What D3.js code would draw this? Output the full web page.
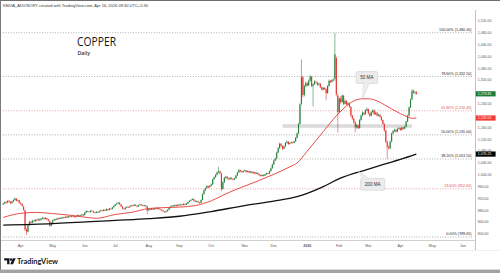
<!DOCTYPE html>
<html><head><meta charset="utf-8">
<script src="https://cdn.jsdelivr.net/npm/d3@7"></script>
<style>html,body{margin:0;padding:0;background:#fff;overflow:hidden}svg{display:block}</style>
</head><body><svg id="c" width="500" height="273"></svg>
<script>
// ---------------- DATA ----------------
const headerText = "KEDIA_ADVISORY created with TradingView.com, Apr 16, 2026 09:30 UTC+5:30";
const titleText = "COPPER";
const subTitle = "Daily";
const startDate = "2025-03-14";   // first daily bar (weekdays)
// daily bars [open, high, low, close]
const candles = [
// Mar 2025
[900,906,898,903],[903,910,901,908],[908,911,903,906],[906,914,904,912],[912,915,907,909],[909,911,901,904],
[904,912,903,910],[910,917,908,915],[915,923,913,920],[920,921,910,912],[912,917,910,914],[914,915,903,905],
// Apr 2025
[905,908,899,902],[902,904,892,895],[893,895,878,882],[880,882,810,815],[815,820,797,808],[808,833,805,830],
[830,845,828,841],[841,843,835,838],[838,848,836,845],[845,847,840,843],[843,851,841,848],[848,850,843,846],
[846,853,845,850],[850,852,844,847],[847,855,846,852],[852,858,850,855],[855,856,848,851],[851,857,849,854],
[854,855,847,850],[850,851,842,845],[845,846,824,828],[828,840,826,838],
// May 2025
[838,848,836,846],[846,852,844,850],[850,851,845,848],[848,855,847,853],[853,854,849,851],[851,857,850,855],
[855,856,851,853],[853,859,852,857],[857,858,853,855],[855,861,854,859],[859,860,854,856],[856,862,855,860],
[860,861,856,858],[858,864,857,862],[862,863,857,859],[859,860,855,857],[857,863,856,861],[861,866,860,864],
[864,865,858,860],[860,865,859,863],[863,868,862,866],[866,867,860,862],
// Jun 2025
[864,874,863,872],[872,880,871,878],[878,879,874,876],[876,877,872,874],[874,881,873,879],[879,880,875,877],
[877,878,871,873],[873,874,869,871],[871,877,870,875],[875,876,871,873],[873,879,872,877],[877,882,876,880],
[880,881,876,878],[878,884,877,882],[882,883,877,879],[879,886,878,884],[884,885,879,881],[881,888,880,886],
[886,887,882,884],[884,892,883,890],[890,897,889,895],
// Jul 2025
[895,902,894,900],[900,906,899,903],[903,909,902,906],[906,907,898,900],[900,901,891,893],[893,894,883,886],
[886,888,881,884],[884,891,883,889],[889,894,888,892],[892,893,888,890],[890,896,889,894],[894,899,893,897],
[897,898,893,895],[895,901,894,899],[899,900,894,896],[896,897,891,893],[893,899,892,897],[897,902,896,900],
[900,901,896,898],[898,899,893,895],[895,899,894,897],[897,898,890,893],[893,894,867,880],
// Aug 2025
[880,886,878,884],[884,885,880,882],[882,888,881,886],[886,887,881,883],[883,889,882,887],[887,888,883,885],
[885,890,884,888],[888,889,882,884],[884,885,880,882],[882,883,877,879],[879,880,874,876],[876,877,871,874],
[874,879,873,877],[877,884,876,882],[882,890,881,888],[888,895,887,893],[893,898,892,896],[896,897,892,894],
[894,900,893,898],[898,899,893,895],[895,901,894,899],
// Sep 2025
[899,900,895,897],[897,902,896,900],[900,901,896,898],[898,904,897,902],[902,903,897,899],[899,905,898,903],
[903,910,902,908],[908,914,907,912],[912,917,911,915],[915,921,914,918],[918,919,911,913],[913,914,907,909],
[909,913,908,911],[911,912,905,907],[907,908,902,905],[905,917,904,915],[915,937,914,935],[935,950,933,948],
[948,957,945,955],[955,965,953,962],[962,963,955,958],[958,966,957,963],
// Oct 2025
[963,971,961,968],[968,987,966,985],[985,995,983,992],[992,1003,990,1000],[1000,1012,998,1008],[1008,1027,1005,1012],
[1012,1014,1002,1005],[1005,1007,945,952],[952,978,950,975],[975,993,972,990],[990,997,987,994],[994,995,985,988],
[988,990,982,985],[985,993,984,990],[990,991,984,987],[987,988,981,984],[984,990,983,988],[988,1000,987,998],
[998,1010,997,1008],[1008,1020,1006,1016],[1016,1017,1009,1012],[1012,1014,1006,1009],[1009,1015,1008,1013],
// Nov 2025
[1013,1018,1011,1015],[1015,1016,1007,1010],[1010,1015,1009,1013],[1013,1014,1005,1008],[1008,1013,1007,1011],
[1011,1012,1003,1006],[1006,1011,1005,1009],[1009,1010,1001,1004],[1004,1009,1003,1007],[1007,1008,1000,1003],
[1003,1004,996,999],[999,1000,993,996],[996,1002,995,1000],[1000,1001,994,997],[997,1004,996,1002],
[1002,1008,1001,1006],[1006,1007,1001,1004],[1004,1014,1003,1012],[1012,1025,1011,1022],[1022,1038,1021,1035],
// Dec 2025
[1035,1051,1033,1048],[1048,1058,1046,1055],[1055,1078,1053,1075],[1075,1094,1073,1090],[1090,1109,1088,1105],
[1105,1107,1095,1098],[1098,1100,1084,1088],[1088,1099,1087,1096],[1096,1111,1095,1108],[1108,1116,1106,1112],
[1112,1114,1101,1104],[1104,1110,1103,1107],[1107,1113,1106,1110],[1110,1112,1105,1108],[1108,1116,1107,1113],
[1113,1128,1112,1125],[1125,1143,1123,1140],[1140,1176,1138,1172],[1172,1242,1170,1238],[1240,1390,1235,1330],
[1330,1335,1262,1270],[1270,1305,1265,1300],[1300,1316,1296,1310],
// Jan 2026
[1310,1313,1298,1302],[1302,1322,1300,1318],[1318,1338,1315,1332],[1332,1334,1296,1300],[1300,1310,1231,1306],
[1306,1320,1304,1315],[1315,1318,1308,1312],[1312,1314,1300,1305],[1305,1312,1302,1308],[1308,1310,1292,1296],
[1296,1298,1284,1288],[1288,1298,1286,1294],[1294,1296,1287,1290],[1290,1292,1252,1276],[1276,1304,1274,1300],
[1300,1322,1298,1318],[1318,1320,1310,1314],[1314,1324,1312,1320],[1320,1326,1316,1322],[1325,1480,1318,1408],
[1395,1400,1265,1272],[1268,1275,1143,1212],
// Feb 2026
[1212,1262,1208,1258],[1258,1266,1240,1246],[1246,1272,1244,1268],[1268,1270,1236,1240],[1240,1254,1238,1250],
[1250,1252,1234,1238],[1238,1246,1235,1242],[1242,1244,1226,1230],[1230,1232,1196,1200],[1200,1203,1186,1190],
[1190,1192,1174,1178],[1178,1180,1143,1160],[1160,1172,1156,1168],[1168,1170,1154,1158],[1158,1189,1156,1185],
[1185,1204,1183,1200],[1200,1214,1198,1210],[1210,1212,1201,1205],[1205,1222,1203,1218],[1218,1228,1215,1222],
// Mar 2026
[1222,1224,1204,1208],[1208,1210,1196,1200],[1200,1215,1198,1212],[1212,1222,1210,1218],[1218,1220,1202,1205],
[1205,1214,1203,1210],[1210,1212,1197,1200],[1200,1207,1198,1203],[1203,1205,1193,1196],[1196,1198,1182,1185],
[1185,1187,1169,1172],[1172,1174,1146,1150],[1150,1152,1108,1112],[1112,1116,1053,1095],[1095,1100,1085,1090],
[1090,1116,1088,1112],[1112,1143,1110,1140],[1140,1152,1138,1148],[1148,1156,1145,1152],[1152,1154,1142,1146],
[1146,1158,1144,1155],[1155,1162,1153,1158],
// Apr 2026
[1158,1160,1148,1152],[1152,1163,1150,1160],[1160,1162,1152,1156],[1156,1166,1154,1163],[1163,1183,1161,1180],
[1180,1203,1178,1200],[1200,1231,1198,1228],[1228,1258,1226,1255],[1255,1290,1253,1283],[1285,1288,1274,1278],
[1278,1284,1272,1280],[1280,1284,1270,1273.85]
];
// moving averages read at sample dates
const ma50 = [
["2025-03-14",856],["2025-04-01",870],["2025-04-16",873],["2025-05-01",869],["2025-05-16",864],["2025-06-02",857],
["2025-06-12",853],["2025-07-01",866],["2025-07-16",873],["2025-08-01",886],["2025-08-15",889],["2025-09-01",891],
["2025-09-16",896],["2025-10-01",912],["2025-10-16",938],["2025-11-03",962],["2025-11-17",981],["2025-12-01",1002],
["2025-12-16",1027],["2025-12-23",1040],["2026-01-01",1080],["2026-01-16",1146],["2026-02-02",1210],["2026-02-16",1250],
["2026-02-24",1257],["2026-03-02",1257],["2026-03-10",1250],["2026-03-17",1237],["2026-03-24",1223],["2026-04-01",1207],
["2026-04-08",1196],["2026-04-13",1191],["2026-04-16",1192]
];
const ma200 = [
["2025-03-14",830],["2025-05-01",835],["2025-07-01",846],["2025-08-01",852],["2025-09-01",860],["2025-10-01",876],
["2025-11-03",896],["2025-12-01",911],["2025-12-23",926],["2026-01-01",937],["2026-01-16",960],["2026-02-02",987],
["2026-03-02",1019],["2026-03-17",1036],["2026-04-01",1052],["2026-04-16",1070]
];
const fibPcts   = ["100.00%","78.60%","61.80%","50.00%","38.20%","23.60%","0.00%"];
const fibValues = [1480.30, 1332.50, 1216.45, 1135.00, 1053.50, 952.65, 789.65];
const fibHot    = [false, false, true, false, false, true, false];
const priceTicks = [800,840,880,920,960,1000,1040,1080,1120,1160,1200,1240,1280,1320,1360,1400,1440,1480,1520];
const monthTickDates  = ["2025-04-01","2025-05-01","2025-06-02","2025-07-01","2025-08-01","2025-09-01","2025-10-01","2025-11-03","2025-12-01","2026-01-01","2026-02-02","2026-03-02","2026-04-01","2026-05-01","2026-06-01"];
const monthTickLabels = ["Apr","May","Jun","Jul","Aug","Sep","Oct","Nov","Dec","2026","Feb","Mar","Apr","May","Jun"];
const lastPrice = 1273.85, ma50Last = 1192.05, ma200Last = 1070.25;
const supportZone = {from:"2025-12-09", to:"2026-04-13", lo:1159, hi:1171};
const callouts = [
  {text:"50 MA",  boxDate:"2026-02-27", boxValue:1329, tipDate:"2026-02-24", tipValue:1258, side:"down"},
  {text:"200 MA", boxDate:"2026-03-05", boxValue:968,  tipDate:"2026-02-19", tipValue:1013, side:"up"}
];

// ---------------- DRAW ----------------
const svg = d3.select("#c");
const UP = "#23803a", DOWN = "#e5322d";
const font = "'Liberation Sans', Arial, sans-serif";
const plotR = 475;

function barIndex(ds){
  const s = new Date(startDate+"T00:00:00Z"), d = new Date(ds+"T00:00:00Z");
  let n = 0;
  for (let t = new Date(s); t < d; t.setUTCDate(t.getUTCDate()+1)) {
    const w = t.getUTCDay(); if (w !== 0 && w !== 6) n++;
  }
  return n;
}
const x = d3.scaleLinear().domain([-2.23, 324.33]).range([0, plotR]);
const y = d3.scaleLinear().domain([800, 1520]).range([234, 21]);
const fmt = d3.format(",.2f");

svg.append("rect").attr("width",500).attr("height",273).attr("fill","#fff");

// header
svg.append("text").attr("x",3).attr("y",7.4).attr("font-family",font).attr("font-size",3.9)
  .attr("fill","#333").attr("textLength",145).attr("lengthAdjust","spacingAndGlyphs").text(headerText);

// axes frame lines
svg.append("line").attr("x1",plotR+0.5).attr("x2",plotR+0.5).attr("y1",10).attr("y2",250).attr("stroke","#b4b4b4").attr("stroke-width",0.8);
svg.append("line").attr("x1",0).attr("x2",plotR).attr("y1",240.5).attr("y2",240.5).attr("stroke","#c4c4c4").attr("stroke-width",0.8);
svg.append("line").attr("x1",0).attr("x2",500).attr("y1",250.5).attr("y2",250.5).attr("stroke","#e4e4e4").attr("stroke-width",0.6);

// fib levels
const fibG = svg.append("g");
fibValues.forEach((v,i)=>{
  const col = fibHot[i] ? "#e58585" : "#9a9a9a";
  fibG.append("line").attr("x1",3).attr("x2",472.5).attr("y1",y(v)).attr("y2",y(v))
    .attr("stroke",col).attr("stroke-width",0.8).attr("stroke-dasharray","1,1.6");
  fibG.append("text").attr("x",471.5).attr("y",y(v)-1.9).attr("text-anchor","end")
    .attr("font-family",font).attr("font-size",3.7).attr("fill", fibHot[i] ? "#d9534f" : "#222")
    .text(fibPcts[i]+" ("+fmt(v)+")");
});

// support zone
svg.append("rect")
  .attr("x", x(barIndex(supportZone.from))).attr("width", x(barIndex(supportZone.to)) - x(barIndex(supportZone.from)))
  .attr("y", y(supportZone.hi)).attr("height", y(supportZone.lo) - y(supportZone.hi))
  .attr("fill","#dadada");

// candles
const cg = svg.append("g");
candles.forEach((c,i)=>{
  const [o,h,l,cl] = c, cx = x(i), col = cl >= o ? UP : DOWN;
  cg.append("line").attr("x1",cx).attr("x2",cx).attr("y1",y(h)).attr("y2",y(l)).attr("stroke",col).attr("stroke-width",0.55);
  const top = y(Math.max(o,cl)), bot = y(Math.min(o,cl));
  cg.append("rect").attr("x",cx-0.55).attr("width",1.1).attr("y",top).attr("height",Math.max(0.6,bot-top)).attr("fill",col);
});

// moving averages
const line = d3.line().x(d=>x(barIndex(d[0]))).y(d=>y(d[1])).curve(d3.curveMonotoneX);
svg.append("path").attr("d",line(ma200)).attr("fill","none").attr("stroke","#111").attr("stroke-width",1.3);
svg.append("path").attr("d",line(ma50)).attr("fill","none").attr("stroke","#e53935").attr("stroke-width",0.9);

// callouts
callouts.forEach(c=>{
  const bx = x(barIndex(c.boxDate)), by = y(c.boxValue);
  const tx = x(barIndex(c.tipDate)), ty = y(c.tipValue);
  const w = c.text.length > 5 ? 24 : 21.5, h = 11.8;
  const g = svg.append("g");
  let tri;
  if (c.side === "down") tri = [[bx-3.4, by+h/2-0.5],[bx+2.6, by+h/2-0.5],[tx,ty]];
  else tri = [[bx-9.7, by-h/2+0.5],[bx-3.7, by-h/2+0.5],[tx,ty]];
  g.append("polygon").attr("points",tri.map(p=>p.join(",")).join(" ")).attr("fill","#ececec").attr("stroke","#c6c6c6").attr("stroke-width",0.5);
  g.append("rect").attr("x",bx-w/2).attr("y",by-h/2).attr("width",w).attr("height",h).attr("rx",1.5)
    .attr("fill","#ececec").attr("stroke","#c6c6c6").attr("stroke-width",0.5);
  g.append("polygon").attr("points",tri.map((p,k)=> k<2 ? [p[0]+0.4, c.side==="down"? p[1]-0.6 : p[1]+0.6].join(",") : [p[0], c.side==="down"? p[1]-1.2 : p[1]+1.2].join(",")).join(" ")).attr("fill","#ececec");
  g.append("text").attr("x",bx).attr("y",by+1.6).attr("text-anchor","middle").attr("font-family",font)
    .attr("font-size",4.6).attr("fill","#333").text(c.text);
});

// title
svg.append("text").attr("x",77).attr("y",46.2).attr("font-family","'Open Sans', sans-serif").attr("font-size",12.2)
  .attr("fill","#131722").attr("textLength",39).attr("lengthAdjust","spacingAndGlyphs").text(titleText);
svg.append("text").attr("x",77.5).attr("y",55.4).attr("font-family","'Open Sans', sans-serif").attr("font-size",5.2)
  .attr("font-weight",600).attr("fill","#333").text(subTitle);

// price axis ticks
const boxes = [[lastPrice,"#1e7a34","#fff"],[ma50Last,"#f23a35","#fff"],[ma200Last,"#000","#fff"]];
priceTicks.forEach(v=>{
  if (boxes.some(b=>Math.abs(y(b[0])-y(v))<2.6)) return;
  svg.append("text").attr("x",477.8).attr("y",y(v)+1.3).attr("font-family",font).attr("font-size",3.5)
    .attr("fill","#555").text(fmt(v));
});
boxes.forEach(b=>{
  svg.append("rect").attr("x",475.8).attr("y",y(b[0])-2.6).attr("width",19.8).attr("height",5.2).attr("fill",b[1]);
  svg.append("text").attr("x",477.8).attr("y",y(b[0])+1.3).attr("font-family",font).attr("font-size",3.5)
    .attr("fill",b[2]).text(fmt(b[0]));
});

// month labels
monthTickDates.forEach((d,i)=>{
  svg.append("text").attr("x",x(barIndex(d))).attr("y",247).attr("text-anchor","middle").attr("font-family",font)
    .attr("font-size",3.7).attr("font-weight", monthTickLabels[i]==="2026" ? 700 : 400).attr("fill","#555").text(monthTickLabels[i]);
});

// TradingView logo
const lg = svg.append("g").attr("fill","#131722");
lg.append("path").attr("d","M4.2,258.3h5.3v5.9h-2.4v-3.6h-2.9z");
lg.append("circle").attr("cx",11).attr("cy",259.5).attr("r",1.2);
lg.append("path").attr("d","M12.9,258.3h2.8l-2.7,5.9h-2.8z");
svg.append("text").attr("x",17).attr("y",263.8).attr("font-family","Lato, 'Open Sans', sans-serif").attr("font-size",7.4)
  .attr("font-weight",700).attr("fill","#131722").attr("textLength",41).attr("lengthAdjust","spacingAndGlyphs").text("TradingView");

// outer border
svg.append("line").attr("x1",0).attr("x2",500).attr("y1",0.5).attr("y2",0.5).attr("stroke","#6e6e6e").attr("stroke-width",1);
svg.append("line").attr("x1",0.5).attr("x2",0.5).attr("y1",0).attr("y2",273).attr("stroke","#7a7a7a").attr("stroke-width",1);
svg.append("rect").attr("x",0).attr("y",269.6).attr("width",500).attr("height",3.4).attr("fill","#a2a2a2");
</script></body></html>
